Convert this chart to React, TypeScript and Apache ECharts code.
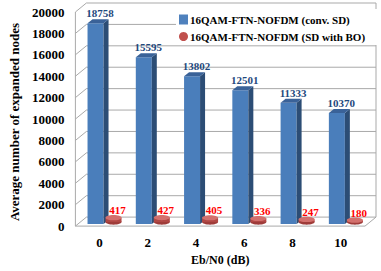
import React, { useEffect, useRef } from "react";
import * as echarts from "echarts";

const categories = ["0", "2", "4", "6", "8", "10"];
const convSD = [18758, 15595, 13802, 12501, 11333, 10370];
const sdWithBO = [417, 427, 405, 336, 247, 180];
const yTicks = [0, 2000, 4000, 6000, 8000, 10000, 12000, 14000, 16000, 18000, 20000];

const seriesNames = ["16QAM-FTN-NOFDM (conv. SD)", "16QAM-FTN-NOFDM (SD with BO)"];

const DX = 11;
const DY = -9;
const FONT = "'Liberation Serif', 'Times New Roman', serif";
const WALL = "#a9a9a9";

export default function App() {
  const ref = useRef<HTMLDivElement>(null);
  useEffect(() => {
    if (!ref.current) return;
    const chart = echarts.init(ref.current, null, { renderer: "svg" });
    const option: any = {
      animation: false,
      backgroundColor: "#ffffff",
      grid: { left: 61, top: 12, width: 304, height: 216, containLabel: false },
      legend: {
        orient: "vertical",
        left: 176,
        top: 9,
        backgroundColor: "#ffffff",
        padding: [5, 18, 3, 3],
        itemWidth: 9,
        itemHeight: 10,
        itemGap: 6,
        textStyle: { fontFamily: FONT, fontWeight: "bold", fontSize: 11, color: "#000", padding: [0, 0, 0, -3] },
        data: [
          { name: seriesNames[0], icon: "rect" },
          { name: seriesNames[1], icon: "circle" },
        ],
      },
      xAxis: {
        type: "category",
        data: categories,
        axisLine: { show: false },
        axisTick: { show: false },
        axisLabel: { fontFamily: FONT, fontWeight: "bold", fontSize: 13, color: "#000", margin: 10 },
        name: "Eb/N0 (dB)",
        nameLocation: "middle",
        nameGap: 26,
        nameTextStyle: { fontFamily: FONT, fontWeight: "bold", fontSize: 12, color: "#000" },
      },
      yAxis: {
        type: "value",
        min: 0,
        max: 20000,
        interval: 2000,
        axisLine: { show: false },
        axisTick: { show: false },
        splitLine: { show: false },
        axisLabel: {
          fontFamily: FONT,
          fontWeight: "bold",
          fontSize: 13,
          color: "#000",
          margin: 11,
          formatter: (v: number) => String(v),
        },
        name: "Average number of expanded nodes",
        nameLocation: "middle",
        nameGap: 47,
        nameTextStyle: { fontFamily: FONT, fontWeight: "bold", fontSize: 13, color: "#000", padding: [0, 6, 0, 0] },
      },
      series: [
        {
          type: "custom",
          name: "walls",
          z: 1,
          silent: true,
          data: yTicks.map((v) => [0, v]),
          renderItem: (params: any, api: any) => {
            const cs = params.coordSys;
            const y = api.coord([0, api.value(1)])[1];
            const ls = { stroke: WALL, lineWidth: 1, fill: null };
            const children: any[] = [
              {
                type: "polyline",
                shape: { points: [[cs.x, y], [cs.x + DX, y + DY], [cs.x + cs.width + DX, y + DY]] },
                style: ls,
              },
            ];
            if (params.dataIndex === 0) {
              children.push({
                type: "polyline",
                shape: { points: [[cs.x, y], [cs.x + cs.width, y], [cs.x + cs.width + DX, y + DY]] },
                style: ls,
              });
              children.push({
                type: "line",
                shape: { x1: cs.x, y1: cs.y, x2: cs.x, y2: cs.y + cs.height },
                style: ls,
              });
              children.push({
                type: "line",
                shape: { x1: cs.x + cs.width + DX, y1: cs.y + DY, x2: cs.x + cs.width + DX, y2: cs.y + cs.height + DY },
                style: ls,
              });
            }
            return { type: "group", children };
          },
        },
        {
          type: "custom",
          name: seriesNames[0],
          z: 3,
          itemStyle: { color: "#4F81BD" },
          data: convSD.map((v, i) => [i, v]),
          renderItem: (params: any, api: any) => {
            const i = api.value(0);
            const v = api.value(1);
            const top = api.coord([i, v]);
            const base = api.coord([i, 0]);
            const cx = top[0];
            const x0 = cx - 12;
            const w = 16;
            const x1 = x0 + w;
            const yb = base[1] - 2;
            const yt = top[1] - 2;
            return {
              type: "group",
              children: [
                { type: "rect", shape: { x: x0, y: yt, width: w, height: yb - yt }, style: { fill: "#4A7EBB" } },
                {
                  type: "polygon",
                  shape: { points: [[x1, yt], [x1 + 5, yt - 4], [x1 + 5, yb - 4], [x1, yb]] },
                  style: { fill: "#2C4D75" },
                },
                {
                  type: "polygon",
                  shape: { points: [[x0, yt], [x1, yt], [x1 + 5, yt - 4], [x0 + 5, yt - 4]] },
                  style: { fill: "#3A6298" },
                },
                {
                  type: "text",
                  style: {
                    x: cx + 0.5,
                    y: yt - 10,
                    text: String(v),
                    align: "center",
                    verticalAlign: "middle",
                    fontFamily: FONT,
                    fontWeight: "bold",
                    fontSize: 11,
                    fill: "#1F497D",
                  },
                },
              ],
            };
          },
        },
        {
          type: "custom",
          name: seriesNames[1],
          z: 3,
          itemStyle: { color: "#C0504D" },
          data: sdWithBO.map((v, i) => [i, v]),
          renderItem: (params: any, api: any) => {
            const i = api.value(0);
            const v = api.value(1);
            const top = api.coord([i, v]);
            const base = api.coord([i, 0]);
            const cx = top[0] + 14;
            const yb = base[1] - 4;
            const h = base[1] - top[1];
            const ytop = yb - h;
            const rx = 8;
            const ry = 2.6;
            return {
              type: "group",
              children: [
                { type: "ellipse", shape: { cx, cy: yb, rx, ry }, style: { fill: "#9E3B39" } },
                { type: "rect", shape: { x: cx - rx, y: ytop, width: 2 * rx, height: yb - ytop }, style: { fill: "#B04744" } },
                { type: "ellipse", shape: { cx, cy: ytop, rx, ry }, style: { fill: "#D3706D" } },
                {
                  type: "text",
                  style: {
                    x: cx + 4,
                    y: ytop - 7.5,
                    text: String(v),
                    align: "center",
                    verticalAlign: "middle",
                    fontFamily: FONT,
                    fontWeight: "bold",
                    fontSize: 11,
                    fill: "#FF0000",
                  },
                },
              ],
            };
          },
        },
      ],
    };
    chart.setOption(option);
    return () => chart.dispose();
  }, []);
  return (
    <div
      ref={ref}
      style={{ position: "fixed", left: 0, top: 0, width: 381, height: 271, background: "#fff" }}
    />
  );
}
